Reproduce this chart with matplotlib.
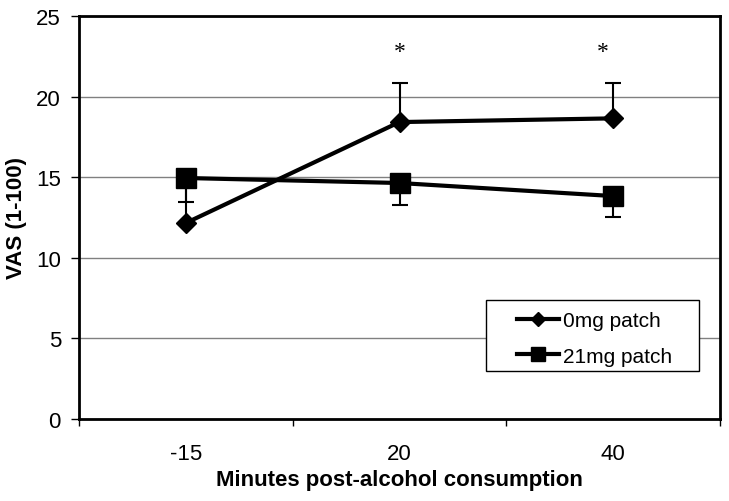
import matplotlib
matplotlib.use("Agg")
import matplotlib.pyplot as plt
from matplotlib.ticker import FixedLocator
from matplotlib.patches import Rectangle

categories = ["-15", "20", "40"]
patch0 = [12.16, 18.42, 18.65]
patch0_err_up = [2.8, 2.42, 2.19]
patch21 = [14.95, 14.64, 13.83]
patch21_err_down = [1.5, 1.37, 1.3]
sig_x = [1.0, 1.95]
sig_y = [22.8, 22.8]
yticks = [0, 5, 10, 15, 20, 25]

plt.rcParams['font.family'] = ['Liberation Sans', 'DejaVu Sans']

fig = plt.figure(figsize=(7.29, 5.02), dpi=100)
ax = fig.add_axes([79/729, 1-420/502, 641/729, 403/502])

x = list(range(len(categories)))

ax.errorbar(x, patch0, yerr=[[0]*3, patch0_err_up], fmt='none', ecolor='black',
            elinewidth=1.5, capsize=6, capthick=1.5, zorder=3)
ax.errorbar(x, patch21, yerr=[patch21_err_down, [0]*3], fmt='none', ecolor='black',
            elinewidth=1.5, capsize=6, capthick=1.5, zorder=3)

ax.plot(x, patch0, color='black', lw=3, marker='D', markersize=10, label='0mg patch', zorder=4)
ax.plot(x, patch21, color='black', lw=3, marker='s', markersize=14, label='21mg patch', zorder=4)

for sx, sy in zip(sig_x, sig_y):
    ax.text(sx, sy, '*', ha='center', va='center', fontsize=17, family='Liberation Serif')

ax.set_xlim(-0.5, 2.5)
ax.set_ylim(0, 25)
ax.set_yticks(yticks)
ax.set_yticklabels([str(v) for v in yticks])
ax.yaxis.grid(True, color='#808080', lw=1)
ax.set_axisbelow(True)

ax.xaxis.set_major_locator(FixedLocator([-0.5, 0.5, 1.5, 2.5]))
ax.set_xticklabels([])
ax.xaxis.set_minor_locator(FixedLocator(x))
ax.set_xticklabels(categories, minor=True)
ax.tick_params(axis='x', which='minor', length=0, pad=17, labelsize=16)
ax.tick_params(axis='x', which='major', length=5, width=1, direction='out')
ax.tick_params(axis='y', length=6, width=1, direction='out', pad=7, labelsize=16)

for sp in ax.spines.values():
    sp.set_linewidth(2)
    sp.set_color('black')

ax.set_xlabel('Minutes post-alcohol consumption', fontsize=16, fontweight='bold', labelpad=4)
fig.text(17/729, 1-218/502, 'VAS (1-100)', rotation=90, ha='center', va='center',
         fontsize=16, fontweight='bold')

# legend frame
box = Rectangle((0.635, 0.119), 0.332, 0.176, transform=ax.transAxes,
                facecolor='white', edgecolor='black', lw=1, zorder=5)
ax.add_patch(box)
leg = ax.legend(loc='center', bbox_to_anchor=(0.635 + 0.332/2 + 0.003, 0.119 + 0.176/2 - 0.007),
                fontsize=15, frameon=False, handlelength=2.0, borderaxespad=0,
                labelspacing=0.8, handletextpad=0.2, markerscale=0.75)
leg.set_zorder(6)

fig.savefig('out.png', dpi=100)
